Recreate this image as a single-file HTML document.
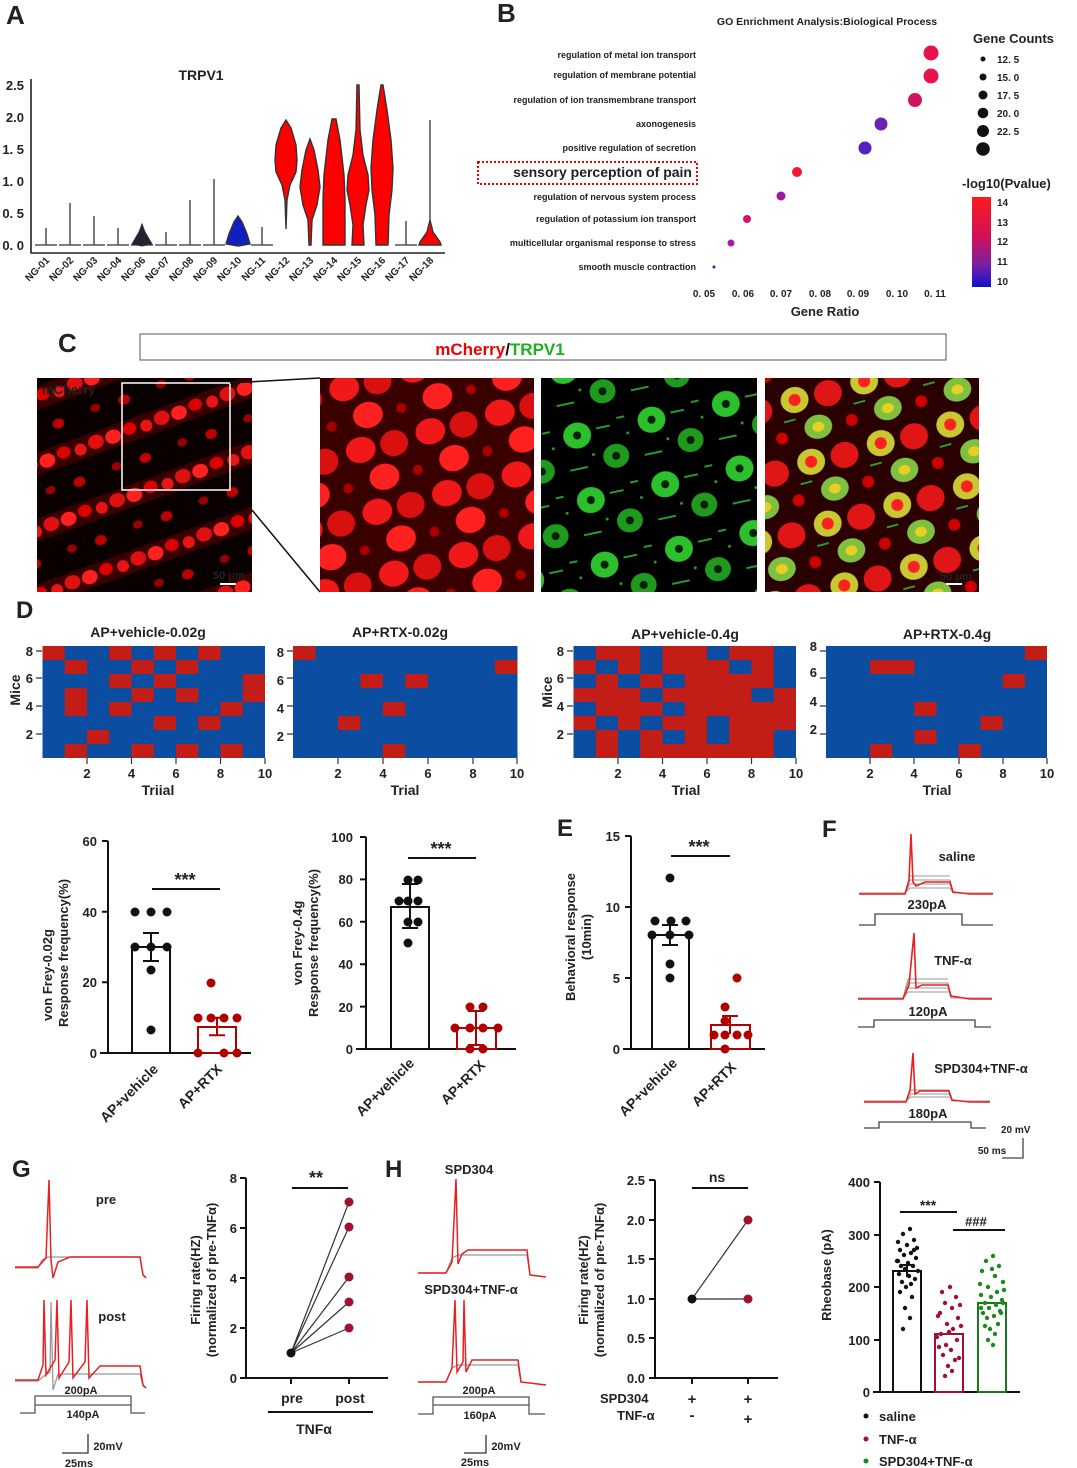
<!DOCTYPE html>
<html><head><meta charset="utf-8"><style>
body{margin:0;background:#fff}
svg{display:block}
text{font-family:"Liberation Sans",Arial,sans-serif;font-weight:bold;fill:#222}
</style></head><body>
<svg width="1077" height="1468" viewBox="0 0 1077 1468" xmlns="http://www.w3.org/2000/svg">
<defs>
<linearGradient id="cb" x1="0" y1="0" x2="0" y2="1"><stop offset="0" stop-color="#ff1a1a"/><stop offset="0.45" stop-color="#d0105a"/><stop offset="0.75" stop-color="#7a20a0"/><stop offset="1" stop-color="#1010d0"/></linearGradient>
<pattern id="p1" width="70" height="62" patternUnits="userSpaceOnUse" patternTransform="rotate(-20)">
<rect width="70" height="62" fill="#0a0000"/>
<rect x="0" y="4" width="70" height="22" fill="#3a0000"/>
<ellipse cx="9" cy="14" rx="8" ry="7" fill="#e01010"/><ellipse cx="27" cy="15" rx="8" ry="7" fill="#ff2020"/><ellipse cx="45" cy="13" rx="7" ry="6" fill="#d00"/><ellipse cx="62" cy="16" rx="6" ry="6" fill="#e81515"/>
<ellipse cx="20" cy="44" rx="5" ry="4" fill="#900"/><ellipse cx="50" cy="46" rx="6" ry="5" fill="#b00"/>
</pattern>
<pattern id="p2" width="72" height="64" patternUnits="userSpaceOnUse" patternTransform="rotate(-15)">
<rect width="72" height="64" fill="#3a0000"/>
<ellipse cx="16" cy="16" rx="15" ry="13" fill="#f01818"/><ellipse cx="50" cy="18" rx="14" ry="13" fill="#d81010"/>
<ellipse cx="32" cy="48" rx="15" ry="13" fill="#ff2020"/><ellipse cx="66" cy="50" rx="5" ry="5" fill="#a00"/>
</pattern>
<pattern id="p3" width="76" height="66" patternUnits="userSpaceOnUse" patternTransform="rotate(-12)">
<rect width="76" height="66" fill="#000"/>
<ellipse cx="18" cy="18" rx="14" ry="13" fill="#2cc02c"/><ellipse cx="18" cy="18" rx="4" ry="4" fill="#052005"/>
<ellipse cx="52" cy="46" rx="13" ry="12" fill="#1f9a1f"/><ellipse cx="52" cy="46" rx="4" ry="4" fill="#052005"/>
<rect x="38" y="14" width="14" height="2" fill="#2a9a2a"/><rect x="4" y="50" width="18" height="2" fill="#2a9a2a"/><rect x="60" y="8" width="8" height="2" fill="#2a9a2a"/>
<circle cx="30" cy="40" r="1.5" fill="#2a9a2a"/><circle cx="68" cy="26" r="1.5" fill="#2a9a2a"/>
</pattern>
<pattern id="p4" width="72" height="64" patternUnits="userSpaceOnUse" patternTransform="rotate(-15)">
<rect width="72" height="64" fill="#2a0000"/>
<ellipse cx="16" cy="16" rx="14" ry="13" fill="#c8c830"/><ellipse cx="16" cy="16" rx="6" ry="6" fill="#ff2020"/>
<ellipse cx="50" cy="18" rx="14" ry="13" fill="#e01515"/>
<ellipse cx="32" cy="48" rx="14" ry="12" fill="#80c040"/><ellipse cx="32" cy="48" rx="6" ry="5" fill="#e8d020"/>
<ellipse cx="66" cy="50" rx="6" ry="6" fill="#c00"/><rect x="0" y="34" width="12" height="2" fill="#2a9a2a"/>
</pattern>
</defs>

<!-- Panel A -->
<text x="6" y="24" font-size="26" fill="#111">A</text>
<text x="201" y="80" font-size="14" text-anchor="middle">TRPV1</text>
<g stroke="#222" stroke-width="1.6" fill="none"><path d="M31,79 V253 H445"/></g>
<g font-size="13" text-anchor="end">
<text x="24" y="90">2.5</text><text x="24" y="122">2.0</text><text x="24" y="154">1. 5</text><text x="24" y="186">1. 0</text><text x="24" y="218">0. 5</text><text x="24" y="250">0. 0</text>
</g>
<g stroke="#333" stroke-width="1.3" fill="none">
<path d="M35,245H57M46,245V228"/><path d="M59,245H81M70,245V203"/><path d="M83,245H105M94,245V216"/><path d="M107,245H129M118,245V228"/>
<path d="M131,245H153M142,245V224"/><path d="M155,245H177M166,245V232"/><path d="M179,245H201M190,245V200"/><path d="M203,245H225M214,245V179"/>
<path d="M251,245H273M262,245V227"/><path d="M395,245H417M406,245V221"/><path d="M430,245V120"/>
</g>
<path d="M142,224 L145,232 L152,244 L142,246 L132,244 L139,232Z" fill="#223" stroke="#333"/>
<g stroke="#333" stroke-width="1.4">
<path d="M238,216 L242,222 L247,234 L250,244 L238,246 L226,244 L229,234 L234,222Z" fill="#1020c0"/>
<path d="M286,120 L291,128 L296,145 L297,160 L296,172 L290,185 L287,200 L286,229 L285,200 L282,185 L276,172 L275,160 L276,145 L281,128Z" fill="#f00"/>
<path d="M310,139 L314,150 L318,170 L320,187 L317,205 L312,220 L311,245 L309,245 L308,220 L303,205 L300,187 L302,170 L306,150Z" fill="#f00"/>
<path d="M332,119 L336,119 L340,140 L344,175 L345,200 L345,245 L323,245 L323,200 L324,175 L328,140Z" fill="#f00"/>
<path d="M357,85 L359,85 L360,130 L363,155 L368,175 L369,190 L366,205 L363,225 L364,245 L352,245 L353,225 L350,205 L347,190 L348,175 L353,155 L356,130Z" fill="#f00"/>
<path d="M381,85 L383,85 L387,110 L391,140 L393,168 L392,190 L389,215 L388,245 L376,245 L375,215 L372,190 L371,168 L373,140 L377,110Z" fill="#f00"/>
<path d="M430,220 L433,232 L440,242 L441,245 L419,245 L420,242 L427,232Z" fill="#f00"/>
</g>
<g font-size="10" text-anchor="end">
<text transform="translate(50,261) rotate(-45)">NG-01</text><text transform="translate(74,261) rotate(-45)">NG-02</text><text transform="translate(98,261) rotate(-45)">NG-03</text><text transform="translate(122,261) rotate(-45)">NG-04</text><text transform="translate(146,261) rotate(-45)">NG-06</text><text transform="translate(170,261) rotate(-45)">NG-07</text><text transform="translate(194,261) rotate(-45)">NG-08</text><text transform="translate(218,261) rotate(-45)">NG-09</text><text transform="translate(242,261) rotate(-45)">NG-10</text><text transform="translate(266,261) rotate(-45)">NG-11</text><text transform="translate(290,261) rotate(-45)">NG-12</text><text transform="translate(314,261) rotate(-45)">NG-13</text><text transform="translate(338,261) rotate(-45)">NG-14</text><text transform="translate(362,261) rotate(-45)">NG-15</text><text transform="translate(386,261) rotate(-45)">NG-16</text><text transform="translate(410,261) rotate(-45)">NG-17</text><text transform="translate(434,261) rotate(-45)">NG-18</text>
</g>

<!-- Panel B -->
<text x="497" y="22" font-size="26" fill="#111">B</text>
<text x="827" y="25" font-size="10.5" text-anchor="middle" font-weight="normal">GO Enrichment Analysis:Biological  Process</text>
<g font-size="9" text-anchor="end" font-weight="normal">
<text x="696" y="58">regulation of metal ion  transport</text>
<text x="696" y="78">regulation of membrane potential</text>
<text x="696" y="103">regulation of ion transmembrane transport</text>
<text x="696" y="127">axonogenesis</text>
<text x="696" y="151">positive regulation of secretion</text>
<text x="696" y="200">regulation of nervous system process</text>
<text x="696" y="222">regulation of potassium ion transport</text>
<text x="696" y="246">multicellular organismal response to stress</text>
<text x="696" y="270">smooth muscle contraction</text>
</g>
<text x="692" y="177" font-size="14" text-anchor="end" font-weight="normal" fill="#111">sensory perception of pain</text>
<rect x="478" y="162" width="219" height="22" fill="none" stroke="#e00" stroke-width="2" stroke-dasharray="2,2"/>
<g>
<circle cx="931" cy="53" r="7.5" fill="#e8134a"/><circle cx="931" cy="76" r="7.5" fill="#e8134a"/><circle cx="915" cy="100" r="7" fill="#d01560"/>
<circle cx="881" cy="124" r="6.5" fill="#6a20b0"/><circle cx="865" cy="148" r="6.5" fill="#5020c0"/><circle cx="797" cy="172" r="5" fill="#f21830"/>
<circle cx="781" cy="196" r="4.5" fill="#9a1aa0"/><circle cx="747" cy="219" r="4" fill="#d8146a"/><circle cx="731" cy="243" r="3.5" fill="#a41aa0"/><circle cx="714" cy="267" r="1.5" fill="#2020d0"/>
</g>
<g font-size="10" text-anchor="middle" font-weight="normal">
<text x="704" y="297">0. 05</text><text x="743" y="297">0. 06</text><text x="781" y="297">0. 07</text><text x="820" y="297">0. 08</text><text x="858" y="297">0. 09</text><text x="897" y="297">0. 10</text><text x="935" y="297">0. 11</text>
</g>
<text x="825" y="316" font-size="13" text-anchor="middle">Gene Ratio</text>
<text x="973" y="43" font-size="13">Gene  Counts</text>
<g fill="#111"><circle cx="983" cy="59" r="2.5"/><circle cx="983" cy="77" r="3.5"/><circle cx="983" cy="95" r="4.5"/><circle cx="983" cy="113" r="5.3"/><circle cx="983" cy="131" r="6"/><circle cx="983" cy="149" r="6.8"/></g>
<g font-size="10" font-weight="normal"><text x="997" y="63">12. 5</text><text x="997" y="81">15. 0</text><text x="997" y="99">17. 5</text><text x="997" y="117">20. 0</text><text x="997" y="135">22. 5</text></g>
<text x="962" y="188" font-size="13">-log10(Pvalue)</text>
<rect x="972" y="197" width="19" height="90" fill="url(#cb)"/>
<g font-size="10" font-weight="normal"><text x="997" y="206">14</text><text x="997" y="226">13</text><text x="997" y="245">12</text><text x="997" y="265">11</text><text x="997" y="285">10</text></g>

<!-- Panel C -->
<text x="58" y="352" font-size="26" fill="#111">C</text>
<rect x="140" y="334" width="806" height="26" fill="none" stroke="#555" stroke-width="1"/>
<text x="500" y="355" font-size="17" text-anchor="middle"><tspan fill="#e00">mCherry</tspan><tspan fill="#111">/</tspan><tspan fill="#1fb01f">TRPV1</tspan></text>
<rect x="37" y="378" width="215" height="214" fill="url(#p1)"/>
<rect x="122" y="383" width="108" height="107" fill="none" stroke="#fff" stroke-width="1.5"/>
<text x="42" y="394" font-size="13" fill="#e01010">mCherry</text>
<text x="213" y="579" font-size="11" fill="#fff">50 μm</text><rect x="220" y="583" width="16" height="2" fill="#fff"/>
<line x1="230" y1="383" x2="320" y2="378" stroke="#111" stroke-width="1.5"/>
<line x1="252" y1="510" x2="320" y2="592" stroke="#111" stroke-width="1.5"/>
<rect x="320" y="378" width="214" height="214" fill="url(#p2)"/>
<rect x="541" y="378" width="216" height="214" fill="url(#p3)"/>
<rect x="765" y="378" width="214" height="214" fill="url(#p4)"/>
<text x="940" y="580" font-size="11" fill="#fff">50 μm</text><rect x="946" y="583" width="16" height="2" fill="#fff"/>

<!-- Panel D heatmaps -->
<text x="16" y="618" font-size="24" fill="#111">D</text>
<g font-size="14" text-anchor="middle">
<text x="148" y="637">AP+vehicle-0.02g</text><text x="400" y="637">AP+RTX-0.02g</text><text x="685" y="639">AP+vehicle-0.4g</text><text x="947" y="639">AP+RTX-0.4g</text>
<text x="158" y="795">Triial</text><text x="405" y="795">Trial</text><text x="686" y="795">Trial</text><text x="937" y="795">Trial</text>
</g>
<text transform="translate(20,690) rotate(-90)" font-size="14" text-anchor="middle">Mice</text>
<text transform="translate(552,692) rotate(-90)" font-size="14" text-anchor="middle">Mice</text>
<g transform="translate(42.5,646) scale(22.25,14)">
<rect width="10" height="8" fill="#0b4da0"/>
<g fill="#c21d17">
<rect x="0" y="0" width="1" height="1"/><rect x="3" y="0" width="1" height="1"/><rect x="5" y="0" width="1" height="1"/><rect x="7" y="0" width="1" height="1"/>
<rect x="1" y="1" width="1" height="1"/><rect x="4" y="1" width="1" height="1"/><rect x="6" y="1" width="1" height="1"/>
<rect x="3" y="2" width="1" height="1"/><rect x="5" y="2" width="1" height="1"/><rect x="9" y="2" width="1" height="1"/>
<rect x="1" y="3" width="1" height="1"/><rect x="4" y="3" width="1" height="1"/><rect x="6" y="3" width="1" height="1"/><rect x="9" y="3" width="1" height="1"/>
<rect x="1" y="4" width="1" height="1"/><rect x="3" y="4" width="1" height="1"/><rect x="8" y="4" width="1" height="1"/>
<rect x="5" y="5" width="1" height="1"/><rect x="7" y="5" width="1" height="1"/>
<rect x="2" y="6" width="1" height="1"/>
<rect x="1" y="7" width="1" height="1"/><rect x="4" y="7" width="1" height="1"/><rect x="6" y="7" width="1" height="1"/><rect x="8" y="7" width="1" height="1"/>
</g></g>
<g transform="translate(293,646) scale(22.45,14)">
<rect width="10" height="8" fill="#0b4da0"/>
<g fill="#c21d17">
<rect x="0" y="0" width="1" height="1"/><rect x="9" y="1" width="1" height="1"/><rect x="3" y="2" width="1" height="1"/><rect x="5" y="2" width="1" height="1"/>
<rect x="4" y="4" width="1" height="1"/><rect x="2" y="5" width="1" height="1"/><rect x="4" y="7" width="1" height="1"/>
</g></g>
<g transform="translate(573.5,646) scale(22.25,14)">
<rect width="10" height="8" fill="#c21d17"/>
<g fill="#0b4da0">
<rect x="0" y="0" width="1" height="1"/><rect x="3" y="0" width="1" height="1"/><rect x="6" y="0" width="1" height="1"/><rect x="9" y="0" width="1" height="1"/>
<rect x="1" y="1" width="1" height="1"/><rect x="3" y="1" width="1" height="1"/><rect x="7" y="1" width="1" height="1"/><rect x="9" y="1" width="1" height="1"/>
<rect x="0" y="2" width="1" height="1"/><rect x="2" y="2" width="1" height="1"/><rect x="4" y="2" width="1" height="1"/><rect x="9" y="2" width="1" height="1"/>
<rect x="3" y="3" width="1" height="1"/><rect x="8" y="3" width="1" height="1"/>
<rect x="0" y="4" width="1" height="1"/><rect x="4" y="4" width="1" height="1"/>
<rect x="1" y="5" width="1" height="1"/><rect x="3" y="5" width="1" height="1"/><rect x="6" y="5" width="1" height="1"/>
<rect x="0" y="6" width="1" height="1"/><rect x="2" y="6" width="1" height="1"/><rect x="4" y="6" width="1" height="1"/><rect x="6" y="6" width="1" height="1"/><rect x="9" y="6" width="1" height="1"/>
<rect x="0" y="7" width="1" height="1"/><rect x="2" y="7" width="1" height="1"/><rect x="9" y="7" width="1" height="1"/>
</g></g>
<g transform="translate(826,646) scale(22.1,14)">
<rect width="10" height="8" fill="#0b4da0"/>
<g fill="#c21d17">
<rect x="9" y="0" width="1" height="1"/><rect x="2" y="1" width="2" height="1"/><rect x="8" y="2" width="1" height="1"/>
<rect x="4" y="4" width="1" height="1"/><rect x="7" y="5" width="1" height="1"/><rect x="4" y="6" width="1" height="1"/><rect x="2" y="7" width="1" height="1"/><rect x="6" y="7" width="1" height="1"/>
</g></g>
<g stroke="#333" stroke-width="1.2">
<path d="M36,651H42M36,678H42M36,706H42M36,734H42M87,758V764M131.5,758V764M176,758V764M220.5,758V764M265,758V764"/>
<path d="M287,651H293M287,678H293M287,706H293M287,734H293M338,758V764M383,758V764M428,758V764M473,758V764M517,758V764"/>
<path d="M567,651H573M567,678H573M567,706H573M567,734H573M618,758V764M662.5,758V764M707,758V764M751.5,758V764M796,758V764"/>
<path d="M820,651H826M820,678H826M820,706H826M820,734H826M870,758V764M914,758V764M959,758V764M1003,758V764M1047,758V764"/>
</g>
<g font-size="13" text-anchor="end">
<text x="33" y="656">8</text><text x="33" y="683">6</text><text x="33" y="711">4</text><text x="33" y="739">2</text>
<text x="284" y="657">8</text><text x="284" y="685">6</text><text x="284" y="713">4</text><text x="284" y="741">2</text>
<text x="564" y="656">8</text><text x="564" y="683">6</text><text x="564" y="711">4</text><text x="564" y="739">2</text>
<text x="817" y="651">8</text><text x="817" y="677">6</text><text x="817" y="706">4</text><text x="817" y="734">2</text>
</g>
<g font-size="13" text-anchor="middle">
<text x="87" y="778">2</text><text x="131.5" y="778">4</text><text x="176" y="778">6</text><text x="220.5" y="778">8</text><text x="265" y="778">10</text>
<text x="338" y="778">2</text><text x="383" y="778">4</text><text x="428" y="778">6</text><text x="473" y="778">8</text><text x="517" y="778">10</text>
<text x="618" y="778">2</text><text x="662.5" y="778">4</text><text x="707" y="778">6</text><text x="751.5" y="778">8</text><text x="796" y="778">10</text>
<text x="870" y="778">2</text><text x="914" y="778">4</text><text x="959" y="778">6</text><text x="1003" y="778">8</text><text x="1047" y="778">10</text>
</g>

<!-- Bar chart 1 -->
<g stroke="#111" stroke-width="2" fill="none">
<path d="M108,841V1053M100,1053H251M102,841H108M102,911.7H108M102,982.3H108M102,1053H108"/>
<rect x="132" y="947" width="38" height="106"/>
<path d="M151,933V961M143,933H159M143,961H159M152,889H220"/>
</g>
<g stroke="#b00000" stroke-width="2" fill="none"><rect x="198" y="1027" width="38" height="26"/><path d="M217,1017.7V1035.3M209,1017.7H225M209,1035.3H225"/></g>
<g fill="#111"><circle cx="135" cy="912" r="4.5"/><circle cx="151" cy="912" r="4.5"/><circle cx="167" cy="912" r="4.5"/><circle cx="135" cy="947" r="4.5"/><circle cx="151" cy="947" r="4.5"/><circle cx="167" cy="947" r="4.5"/><circle cx="151" cy="970" r="4.5"/><circle cx="151" cy="1030" r="4.5"/></g>
<g fill="#b00000"><circle cx="211" cy="983" r="4.5"/><circle cx="198" cy="1018" r="4.5"/><circle cx="211" cy="1018" r="4.5"/><circle cx="224" cy="1018" r="4.5"/><circle cx="237" cy="1018" r="4.5"/><circle cx="198" cy="1053" r="4.5"/><circle cx="224" cy="1053" r="4.5"/><circle cx="237" cy="1053" r="4.5"/></g>
<text x="185" y="886" font-size="18" text-anchor="middle">***</text>
<g font-size="13" text-anchor="end"><text x="97" y="846">60</text><text x="97" y="917">40</text><text x="97" y="987">20</text><text x="97" y="1058">0</text></g>
<text transform="translate(52,975) rotate(-90)" font-size="13" text-anchor="middle" fill="#444">von Frey-0.02g</text>
<text transform="translate(68,953) rotate(-90)" font-size="13" text-anchor="middle" fill="#444">Response  frequency(%)</text>
<g font-size="14" text-anchor="end"><text transform="translate(159,1070) rotate(-45)">AP+vehicle</text><text transform="translate(223,1070) rotate(-45)">AP+RTX</text></g>

<!-- Bar chart 2 -->
<g stroke="#111" stroke-width="2" fill="none">
<path d="M366,837V1049M356,1049H516M360,837H366M360,879.4H366M360,921.8H366M360,964.2H366M360,1006.6H366"/>
<rect x="391" y="907" width="38" height="142"/>
<path d="M410,884V928M402,884H418M402,928H418M408,858H476"/>
</g>
<g stroke="#b00000" stroke-width="2" fill="none"><rect x="457" y="1028" width="39" height="21"/><path d="M476,1011V1045M468,1011H484M468,1045H484"/></g>
<g fill="#111"><circle cx="408" cy="880" r="4.5"/><circle cx="418" cy="880" r="4.5"/><circle cx="399" cy="901" r="4.5"/><circle cx="408" cy="901" r="4.5"/><circle cx="418" cy="901" r="4.5"/><circle cx="408" cy="922" r="4.5"/><circle cx="418" cy="922" r="4.5"/><circle cx="408" cy="943" r="4.5"/></g>
<g fill="#b00000"><circle cx="470" cy="1007" r="4.5"/><circle cx="483" cy="1007" r="4.5"/><circle cx="455" cy="1028" r="4.5"/><circle cx="470" cy="1028" r="4.5"/><circle cx="483" cy="1028" r="4.5"/><circle cx="498" cy="1028" r="4.5"/><circle cx="470" cy="1049" r="4.5"/><circle cx="483" cy="1049" r="4.5"/></g>
<text x="441" y="855" font-size="18" text-anchor="middle">***</text>
<g font-size="13" text-anchor="end"><text x="353" y="842">100</text><text x="353" y="884">80</text><text x="353" y="927">60</text><text x="353" y="969">40</text><text x="353" y="1012">20</text><text x="353" y="1054">0</text></g>
<text transform="translate(302,943) rotate(-90)" font-size="13" text-anchor="middle" fill="#444">von Frey-0.4g</text>
<text transform="translate(318,943) rotate(-90)" font-size="13" text-anchor="middle" fill="#444">Response  frequency(%)</text>
<g font-size="14" text-anchor="end"><text transform="translate(415,1064) rotate(-45)">AP+vehicle</text><text transform="translate(486,1066) rotate(-45)">AP+RTX</text></g>

<!-- Panel E -->
<text x="557" y="836" font-size="24" fill="#111">E</text>
<g stroke="#111" stroke-width="2" fill="none">
<path d="M631,836V1049M623,1049H765M625,836H631M625,907H631M625,978H631M625,1049H631"/>
<rect x="652" y="935" width="37" height="114"/>
<path d="M670,925V945M662,925H678M662,945H678M671,856H730"/>
</g>
<g stroke="#b00000" stroke-width="2" fill="none"><rect x="711" y="1025" width="39" height="24"/><path d="M730,1016V1034M722,1016H738"/></g>
<g fill="#111"><circle cx="670" cy="878" r="4.5"/><circle cx="655" cy="921" r="4.5"/><circle cx="671" cy="921" r="4.5"/><circle cx="686" cy="921" r="4.5"/><circle cx="652" cy="935" r="4.5"/><circle cx="670" cy="935" r="4.5"/><circle cx="689" cy="935" r="4.5"/><circle cx="670" cy="964" r="4.5"/><circle cx="670" cy="978" r="4.5"/></g>
<g fill="#b00000"><circle cx="737" cy="978" r="4.5"/><circle cx="725" cy="1007" r="4.5"/><circle cx="725" cy="1021" r="4.5"/><circle cx="714" cy="1035" r="4.5"/><circle cx="725" cy="1035" r="4.5"/><circle cx="737" cy="1035" r="4.5"/><circle cx="748" cy="1035" r="4.5"/><circle cx="725" cy="1049" r="4.5"/></g>
<text x="699" y="853" font-size="18" text-anchor="middle">***</text>
<g font-size="13" text-anchor="end"><text x="620" y="841">15</text><text x="620" y="912">10</text><text x="620" y="983">5</text><text x="620" y="1054">0</text></g>
<text transform="translate(575,937) rotate(-90)" font-size="13" text-anchor="middle" fill="#444">Behavioral response</text>
<text transform="translate(591,937) rotate(-90)" font-size="13" text-anchor="middle" fill="#444">(10min)</text>
<g font-size="14" text-anchor="end"><text transform="translate(678,1064) rotate(-45)">AP+vehicle</text><text transform="translate(737,1068) rotate(-45)">AP+RTX</text></g>

<!-- Panel F -->
<text x="822" y="837" font-size="24" fill="#111">F</text>
<g fill="none" stroke-width="1">
<g stroke="#999">
<path d="M859,893H905L910,880H950L953,893H993"/><path d="M905,893L910,884H950L953,893"/><path d="M905,893L910,888H950L953,893"/><path d="M905,893L910,876H950"/>
<path d="M858,998H903L908,983H948L951,998H992"/><path d="M903,998L908,988H948L951,998"/><path d="M903,998L908,992H948"/><path d="M903,998L908,979H948"/>
<path d="M864,1101H906L911,1090H949L952,1101H990"/><path d="M906,1101L911,1094H949L952,1101"/><path d="M906,1101L911,1097H949"/>
</g>
<g stroke="#e82020" stroke-width="1.6">
<path d="M859,894H905L909,880L911,834L913,882L916,886L925,882H950L953,892L970,894H993"/>
<path d="M858,999H903L909,985L914,933L916,988L922,985H948L951,996L970,999H992"/>
<path d="M864,1102H906L910,1090L913,1053L915,1094L920,1091H949L952,1100L970,1102H990"/>
</g>
<g stroke="#444" stroke-width="1.3">
<path d="M859,925H875V914H962V925H993"/><path d="M858,1027H874V1020H975V1027H991"/><path d="M864,1128H879V1122H971V1128H986"/>
<path d="M1023,1138V1158H1002"/>
</g>
</g>
<g font-size="13" text-anchor="middle"><text x="957" y="861">saline</text><text x="927" y="909">230pA</text><text x="953" y="965">TNF-α</text><text x="928" y="1016">120pA</text><text x="981" y="1073">SPD304+TNF-α</text><text x="928" y="1118">180pA</text></g>
<text x="1001" y="1133" font-size="10">20 mV</text><text x="992" y="1154" font-size="10" text-anchor="middle">50 ms</text>

<!-- Rheobase -->
<g stroke="#111" stroke-width="2" fill="none">
<path d="M880,1182V1392M873,1392H1020M874,1182H880M874,1235H880M874,1287H880M874,1340H880M874,1392H880"/>
<rect x="893" y="1271" width="28" height="121"/>
<path d="M907,1265V1277M901,1265H913M900,1212H957M953,1230H1005"/>
</g>
<rect x="935" y="1334" width="28" height="58" fill="none" stroke="#a01030" stroke-width="2"/>
<rect x="978" y="1303" width="28" height="89" fill="none" stroke="#1a7a1a" stroke-width="2"/>
<g fill="#111">
<circle cx="910" cy="1229" r="2.2"/><circle cx="903" cy="1234" r="2.2"/><circle cx="914" cy="1240" r="2.2"/><circle cx="898" cy="1242" r="2.2"/><circle cx="907" cy="1245" r="2.2"/><circle cx="917" cy="1248" r="2.2"/><circle cx="900" cy="1250" r="2.2"/><circle cx="911" cy="1253" r="2.2"/><circle cx="904" cy="1255" r="2.2"/><circle cx="916" cy="1258" r="2.2"/><circle cx="897" cy="1261" r="2.2"/><circle cx="908" cy="1263" r="2.2"/><circle cx="901" cy="1266" r="2.2"/><circle cx="913" cy="1266" r="2.2"/><circle cx="905" cy="1269" r="2.2"/><circle cx="918" cy="1271" r="2.2"/><circle cx="899" cy="1274" r="2.2"/><circle cx="909" cy="1276" r="2.2"/><circle cx="915" cy="1279" r="2.2"/><circle cx="902" cy="1282" r="2.2"/><circle cx="911" cy="1284" r="2.2"/><circle cx="906" cy="1287" r="2.2"/><circle cx="900" cy="1292" r="2.2"/><circle cx="912" cy="1297" r="2.2"/><circle cx="905" cy="1308" r="2.2"/><circle cx="910" cy="1318" r="2.2"/><circle cx="903" cy="1329" r="2.2"/><circle cx="914" cy="1250" r="2.2"/><circle cx="898" cy="1261" r="2.2"/>
</g>
<g fill="#a01030">
<circle cx="950" cy="1287" r="2.2"/><circle cx="942" cy="1292" r="2.2"/><circle cx="956" cy="1297" r="2.2"/><circle cx="945" cy="1303" r="2.2"/><circle cx="952" cy="1308" r="2.2"/><circle cx="940" cy="1313" r="2.2"/><circle cx="958" cy="1318" r="2.2"/><circle cx="947" cy="1324" r="2.2"/><circle cx="953" cy="1329" r="2.2"/><circle cx="941" cy="1334" r="2.2"/><circle cx="957" cy="1340" r="2.2"/><circle cx="946" cy="1345" r="2.2"/><circle cx="951" cy="1350" r="2.2"/><circle cx="943" cy="1355" r="2.2"/><circle cx="955" cy="1360" r="2.2"/><circle cx="948" cy="1366" r="2.2"/><circle cx="952" cy="1371" r="2.2"/><circle cx="945" cy="1376" r="2.2"/><circle cx="960" cy="1305" r="2.2"/><circle cx="938" cy="1316" r="2.2"/><circle cx="961" cy="1326" r="2.2"/><circle cx="937" cy="1337" r="2.2"/><circle cx="939" cy="1347" r="2.2"/><circle cx="959" cy="1358" r="2.2"/><circle cx="949" cy="1332" r="2.2"/>
</g>
<g fill="#1a8a1a">
<circle cx="993" cy="1256" r="2.2"/><circle cx="986" cy="1261" r="2.2"/><circle cx="999" cy="1266" r="2.2"/><circle cx="982" cy="1271" r="2.2"/><circle cx="995" cy="1276" r="2.2"/><circle cx="1003" cy="1282" r="2.2"/><circle cx="988" cy="1287" r="2.2"/><circle cx="997" cy="1292" r="2.2"/><circle cx="981" cy="1295" r="2.2"/><circle cx="991" cy="1297" r="2.2"/><circle cx="1002" cy="1300" r="2.2"/><circle cx="985" cy="1303" r="2.2"/><circle cx="996" cy="1305" r="2.2"/><circle cx="989" cy="1308" r="2.2"/><circle cx="1000" cy="1311" r="2.2"/><circle cx="983" cy="1313" r="2.2"/><circle cx="994" cy="1316" r="2.2"/><circle cx="987" cy="1318" r="2.2"/><circle cx="998" cy="1324" r="2.2"/><circle cx="990" cy="1329" r="2.2"/><circle cx="995" cy="1334" r="2.2"/><circle cx="988" cy="1340" r="2.2"/><circle cx="993" cy="1345" r="2.2"/><circle cx="1004" cy="1290" r="2.2"/><circle cx="980" cy="1284" r="2.2"/><circle cx="1003" cy="1303" r="2.2"/><circle cx="981" cy="1308" r="2.2"/><circle cx="1001" cy="1313" r="2.2"/><circle cx="985" cy="1326" r="2.2"/><circle cx="992" cy="1269" r="2.2"/>
</g>
<text x="928" y="1210" font-size="14" text-anchor="middle">***</text>
<text x="976" y="1226" font-size="13" text-anchor="middle">###</text>
<g font-size="13" text-anchor="end"><text x="870" y="1187">400</text><text x="870" y="1240">300</text><text x="870" y="1292">200</text><text x="870" y="1345">100</text><text x="870" y="1397">0</text></g>
<text transform="translate(831,1275) rotate(-90)" font-size="13" text-anchor="middle" fill="#333">Rheobase (pA)</text>
<circle cx="866" cy="1416" r="2.5" fill="#111"/><circle cx="866" cy="1439" r="2.5" fill="#a01030"/><circle cx="866" cy="1461" r="2.5" fill="#1a8a1a"/>
<g font-size="13"><text x="879" y="1421">saline</text><text x="879" y="1444">TNF-α</text><text x="879" y="1466">SPD304+TNF-α</text></g>

<!-- Panel G -->
<text x="12" y="1177" font-size="24" fill="#111">G</text>
<g fill="none">
<path d="M15,1268H38L42,1260L48,1257H140L143,1275L146,1277" stroke="#999" stroke-width="1.3"/>
<path d="M15,1381H38L44,1376L50,1372L51,1302L53,1390L58,1374H140L143,1386L146,1388" stroke="#999" stroke-width="1.3"/>
<path d="M15,1267H38L46,1258L49,1180L51,1260L53,1278L58,1262L70,1257H140L143,1275L146,1278" stroke="#e82020" stroke-width="1.5"/>
<path d="M15,1380H38L43,1365L44,1300L46,1375L55,1360L57,1300L59,1378L69,1362L71,1300L73,1378L85,1362L87,1300L89,1378L100,1366H140L143,1385L146,1388" stroke="#e82020" stroke-width="1.5"/>
<path d="M20,1413H35V1396H131V1413H145M35,1405H131" stroke="#555" stroke-width="1.3"/>
<path d="M62,1453H88V1434" stroke="#333" stroke-width="1.3"/>
</g>
<g font-size="13" text-anchor="middle"><text x="106" y="1204">pre</text><text x="112" y="1321">post</text></g>
<g font-size="11" text-anchor="middle"><text x="81" y="1394">200pA</text><text x="83" y="1418">140pA</text><text x="108" y="1450">20mV</text><text x="79" y="1467">25ms</text></g>

<g stroke="#111" stroke-width="2" fill="none">
<path d="M246,1178V1378H388M240,1178H246M240,1228H246M240,1278H246M240,1328H246M240,1378H246M291,1378V1384M349,1378V1384"/>
<path d="M292,1188H348M268,1412H373"/>
</g>
<g stroke="#333" stroke-width="1.2"><path d="M291,1353L349,1202M291,1353L349,1227M291,1353L349,1277M291,1353L349,1302M291,1353L349,1328"/></g>
<circle cx="291" cy="1353" r="4.5" fill="#111"/>
<g fill="#a01030"><circle cx="349" cy="1202" r="4.5"/><circle cx="349" cy="1227" r="4.5"/><circle cx="349" cy="1277" r="4.5"/><circle cx="349" cy="1302" r="4.5"/><circle cx="349" cy="1328" r="4.5"/></g>
<text x="316" y="1184" font-size="18" text-anchor="middle">**</text>
<g font-size="13" text-anchor="end"><text x="237" y="1183">8</text><text x="237" y="1233">6</text><text x="237" y="1283">4</text><text x="237" y="1333">2</text><text x="237" y="1383">0</text></g>
<g font-size="14" text-anchor="middle"><text x="292" y="1403">pre</text><text x="350" y="1403">post</text><text x="314" y="1434">TNFα</text></g>
<text transform="translate(200,1280) rotate(-90)" font-size="13" text-anchor="middle" fill="#333">Firing rate(HZ)</text>
<text transform="translate(216,1280) rotate(-90)" font-size="13" text-anchor="middle" fill="#333">(normalized of  pre-TNFα)</text>

<!-- Panel H -->
<text x="385" y="1177" font-size="24" fill="#111">H</text>
<g font-size="13" text-anchor="middle"><text x="469" y="1174">SPD304</text><text x="471" y="1294">SPD304+TNF-α</text></g>
<g fill="none">
<path d="M418,1273H446L452,1258L458,1255H527L530,1275L546,1277" stroke="#999" stroke-width="1.3"/>
<path d="M418,1382H446L452,1368L458,1365H518L521,1382L546,1385" stroke="#999" stroke-width="1.3"/>
<path d="M418,1273H446L452,1262L456,1179L458,1264L462,1254L468,1250H527L530,1275L546,1277" stroke="#e82020" stroke-width="1.5"/>
<path d="M418,1382H446L452,1368L455,1300L457,1372L463,1362L464,1300L466,1372L472,1360H518L521,1382L546,1385" stroke="#e82020" stroke-width="1.5"/>
<path d="M418,1414H433V1397H529V1414H545M433,1405H529" stroke="#555" stroke-width="1.3"/>
<path d="M464,1453H486V1435" stroke="#333" stroke-width="1.3"/>
</g>
<g font-size="11" text-anchor="middle"><text x="479" y="1394">200pA</text><text x="480" y="1419">160pA</text><text x="506" y="1450">20mV</text><text x="475" y="1466">25ms</text></g>

<g stroke="#111" stroke-width="2" fill="none">
<path d="M655,1180V1378H778M649,1180H655M649,1220H655M649,1259H655M649,1299H655M649,1338H655M649,1378H655M692,1378V1384M748,1378V1384"/>
<path d="M692,1188H748"/>
</g>
<g stroke="#333" stroke-width="1.2"><path d="M692,1299L748,1220M692,1299H748"/></g>
<circle cx="692" cy="1299" r="4.5" fill="#111"/><circle cx="748" cy="1220" r="4.5" fill="#a01030"/><circle cx="748" cy="1299" r="4.5" fill="#a01030"/>
<text x="717" y="1182" font-size="14" text-anchor="middle">ns</text>
<g font-size="13" text-anchor="end"><text x="645" y="1185">2.5</text><text x="645" y="1225">2.0</text><text x="645" y="1264">1.5</text><text x="645" y="1304">1.0</text><text x="645" y="1343">0.5</text><text x="645" y="1383">0.0</text></g>
<text transform="translate(588,1280) rotate(-90)" font-size="13" text-anchor="middle" fill="#333">Firing rate(HZ)</text>
<text transform="translate(604,1280) rotate(-90)" font-size="13" text-anchor="middle" fill="#333">(normalized of  pre-TNFα)</text>
<g font-size="13"><text x="600" y="1403">SPD304</text><text x="617" y="1420">TNF-α</text></g>
<g font-size="15" text-anchor="middle"><text x="692" y="1404">+</text><text x="748" y="1404">+</text><text x="692" y="1420">-</text><text x="748" y="1424">+</text></g>
</svg>
</body></html>
